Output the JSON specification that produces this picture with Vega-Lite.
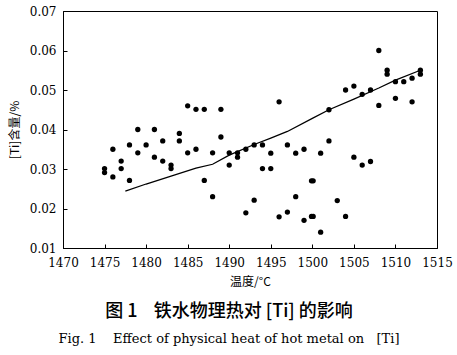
{
  "$schema": "https://vega.github.io/schema/vega-lite/v6.json",
  "width": 374,
  "height": 237,
  "autosize": {"type": "none"},
  "padding": {"left": 63, "top": 11, "right": 20, "bottom": 107},
  "background": "white",
  "config": {
    "view": {"stroke": "black", "strokeWidth": 1},
    "axis": {
      "grid": false,
      "domainColor": "black",
      "tickColor": "black",
      "labelColor": "black",
      "titleColor": "black",
      "labelFont": "DejaVu Serif",
      "labelFontSize": 12,
      "labelOverlap": false,
      "labelBound": false,
      "labelFlush": false,
      "tickSize": -4,
      "titleFontWeight": "normal",
      "titleFont": "Noto Sans CJK SC",
      "titleFontSize": 12
    }
  },
  "datasets": {
    "pts": [
      {"t": 1475, "ti": 0.0301}, {"t": 1475, "ti": 0.0291},
      {"t": 1476, "ti": 0.0350}, {"t": 1476, "ti": 0.0280},
      {"t": 1477, "ti": 0.0320}, {"t": 1477, "ti": 0.0301},
      {"t": 1478, "ti": 0.0361}, {"t": 1478, "ti": 0.0271},
      {"t": 1479, "ti": 0.0400}, {"t": 1479, "ti": 0.0341},
      {"t": 1480, "ti": 0.0361},
      {"t": 1481, "ti": 0.0400}, {"t": 1481, "ti": 0.0330},
      {"t": 1482, "ti": 0.0371}, {"t": 1482, "ti": 0.0320},
      {"t": 1483, "ti": 0.0310}, {"t": 1483, "ti": 0.0301},
      {"t": 1484, "ti": 0.0390}, {"t": 1484, "ti": 0.0371},
      {"t": 1485, "ti": 0.0460}, {"t": 1485, "ti": 0.0341},
      {"t": 1486, "ti": 0.0451}, {"t": 1486, "ti": 0.0350},
      {"t": 1487, "ti": 0.0451}, {"t": 1487, "ti": 0.0271},
      {"t": 1488, "ti": 0.0341}, {"t": 1488, "ti": 0.0230},
      {"t": 1489, "ti": 0.0451}, {"t": 1489, "ti": 0.0381},
      {"t": 1490, "ti": 0.0341}, {"t": 1490, "ti": 0.0310},
      {"t": 1491, "ti": 0.0341}, {"t": 1491, "ti": 0.0330},
      {"t": 1492, "ti": 0.0350}, {"t": 1492, "ti": 0.0189},
      {"t": 1493, "ti": 0.0361}, {"t": 1493, "ti": 0.0221},
      {"t": 1494, "ti": 0.0361}, {"t": 1494, "ti": 0.0301},
      {"t": 1495, "ti": 0.0340}, {"t": 1495, "ti": 0.0301},
      {"t": 1496, "ti": 0.0470}, {"t": 1496, "ti": 0.0179},
      {"t": 1497, "ti": 0.0361}, {"t": 1497, "ti": 0.0191},
      {"t": 1498, "ti": 0.0340}, {"t": 1498, "ti": 0.0230},
      {"t": 1499, "ti": 0.0350}, {"t": 1499, "ti": 0.0170},
      {"t": 1499.9, "ti": 0.0270}, {"t": 1500.1, "ti": 0.0270},
      {"t": 1499.9, "ti": 0.0180}, {"t": 1500.1, "ti": 0.0180},
      {"t": 1501, "ti": 0.0340}, {"t": 1501, "ti": 0.0140},
      {"t": 1502, "ti": 0.0450}, {"t": 1502, "ti": 0.0371},
      {"t": 1503, "ti": 0.0220},
      {"t": 1504, "ti": 0.0500}, {"t": 1504, "ti": 0.0180},
      {"t": 1505, "ti": 0.0510}, {"t": 1505, "ti": 0.0330},
      {"t": 1506, "ti": 0.0489}, {"t": 1506, "ti": 0.0310},
      {"t": 1507, "ti": 0.0500}, {"t": 1507, "ti": 0.0319},
      {"t": 1508, "ti": 0.0600}, {"t": 1508, "ti": 0.0461},
      {"t": 1509, "ti": 0.0550}, {"t": 1509, "ti": 0.0540},
      {"t": 1510, "ti": 0.0521}, {"t": 1510, "ti": 0.0479},
      {"t": 1511, "ti": 0.0521},
      {"t": 1512, "ti": 0.0530}, {"t": 1512, "ti": 0.0470},
      {"t": 1513, "ti": 0.0550}, {"t": 1513, "ti": 0.0540}
    ],
    "trend": [
      {"t": 1477.5, "ti": 0.0244},
      {"t": 1480, "ti": 0.0262},
      {"t": 1483, "ti": 0.0282},
      {"t": 1486, "ti": 0.0302},
      {"t": 1488, "ti": 0.0312},
      {"t": 1490, "ti": 0.0335},
      {"t": 1493, "ti": 0.0362},
      {"t": 1495, "ti": 0.0378},
      {"t": 1497, "ti": 0.0395},
      {"t": 1500, "ti": 0.0428},
      {"t": 1502, "ti": 0.0450},
      {"t": 1505, "ti": 0.0477},
      {"t": 1508, "ti": 0.0505},
      {"t": 1510, "ti": 0.0525},
      {"t": 1513, "ti": 0.0550}
    ]
  },
  "title": {
    "text": "图\u00a01\u00a0\u00a0\u00a0\u00a0铁水物理热对\u00a0[Ti]\u00a0的影响",
    "subtitle": "Fig.\u00a01\u00a0\u00a0\u00a0\u00a0Effect\u00a0of\u00a0physical\u00a0heat\u00a0of\u00a0hot\u00a0metal\u00a0on\u00a0\u00a0\u00a0[Ti]",
    "orient": "bottom",
    "anchor": "middle",
    "dx": -21,
    "offset": 16,
    "font": "Noto Sans CJK SC",
    "fontSize": 18,
    "fontWeight": 500,
    "color": "black",
    "subtitleFont": "DejaVu Serif",
    "subtitleFontSize": 13,
    "subtitleColor": "black",
    "subtitlePadding": 12
  },
  "encoding": {
    "x": {
      "field": "t", "type": "quantitative",
      "scale": {"domain": [1470, 1515], "nice": false, "zero": false},
      "axis": {"values": [1470, 1475, 1480, 1485, 1490, 1495, 1500, 1505, 1510, 1515], "format": "d", "title": "温度/°C", "labelPadding": 13, "titlePadding": 8, "labelOverlap": false}
    },
    "y": {
      "field": "ti", "type": "quantitative",
      "scale": {"domain": [0.01, 0.07], "nice": false, "zero": false},
      "axis": {"values": [0.01, 0.02, 0.03, 0.04, 0.05, 0.06, 0.07], "format": ".2f", "title": "[Ti]含量/%", "labelPadding": 11, "titlePadding": 8, "labelOverlap": false, "labelSeparation": 0}
    }
  },
  "layer": [
    {
      "data": {"name": "pts"},
      "mark": {"type": "circle", "size": 28, "color": "black", "opacity": 1}
    },
    {
      "data": {"name": "trend"},
      "mark": {"type": "line", "color": "black", "strokeWidth": 1.3}
    }
  ]
}
